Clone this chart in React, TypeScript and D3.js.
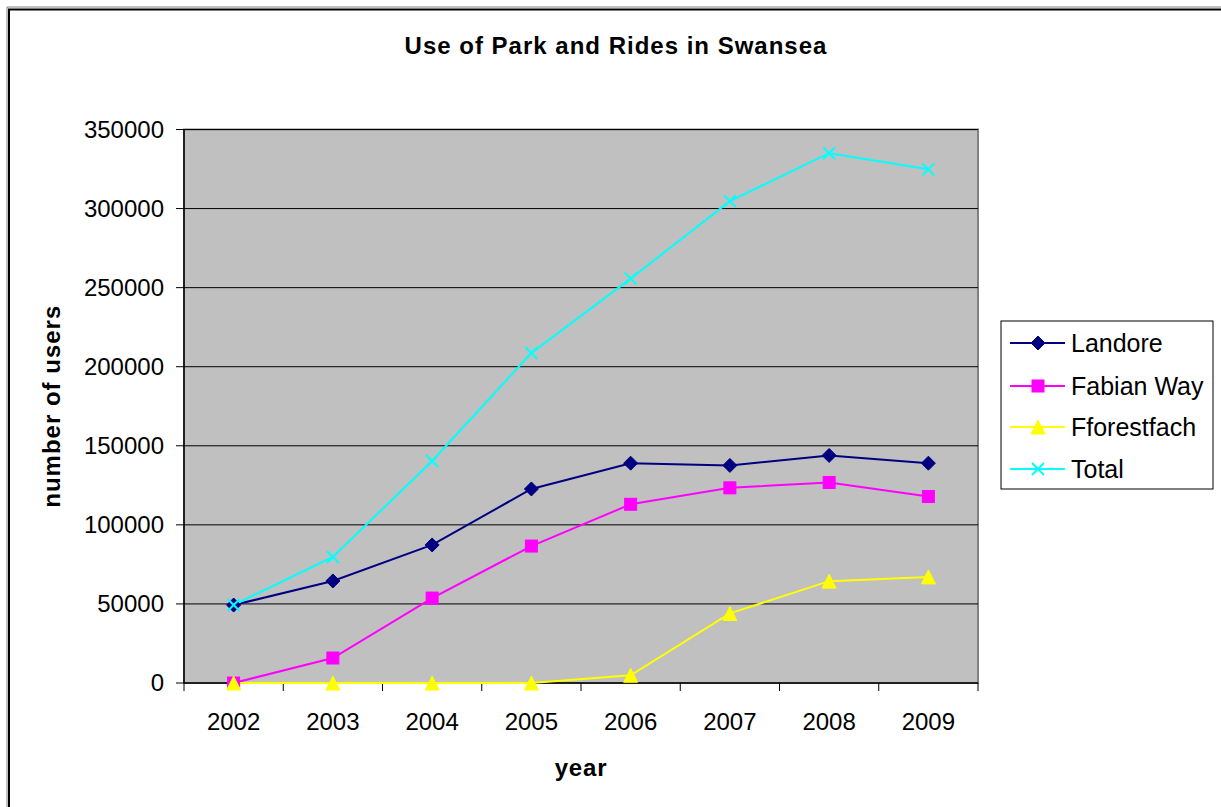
import React from "react";
import * as d3 from "d3";

const years = ["2002", "2003", "2004", "2005", "2006", "2007", "2008", "2009"];
const landore = [49300, 64500, 87300, 122700, 139000, 137600, 143900, 139000];
const fabianWay = [0, 15800, 53700, 86600, 113000, 123400, 126800, 117900];
const fforestfach = [0, 0, 0, 0, 4900, 44000, 64400, 67100];
const total = [49300, 79700, 140400, 208700, 255700, 304700, 335000, 324800];
const yTicks = [0, 50000, 100000, 150000, 200000, 250000, 300000, 350000];

const seriesNames = ["Landore", "Fabian Way", "Fforestfach", "Total"];
const seriesColors = ["#000080", "#FF00FF", "#FFFF00", "#00FFFF"];
const seriesMarkers = ["diamond", "square", "triangle", "x"];

const W = 1221;
const H = 807;
const plotL = 184;
const plotR = 978;
const plotT = 129.5;
const plotB = 683;
const FONT = "'Liberation Sans', Arial, sans-serif";

function Marker({ type, x, y, color }: { type: string; x: number; y: number; color: string }) {
  if (type === "diamond") {
    const s = 7;
    return <path d={`M${x},${y - s}L${x + s},${y}L${x},${y + s}L${x - s},${y}Z`} fill={color} stroke={color} strokeWidth={1} />;
  }
  if (type === "square") {
    const s = 6;
    return <rect x={x - s} y={y - s} width={2 * s} height={2 * s} fill={color} stroke={color} strokeWidth={1} />;
  }
  if (type === "triangle") {
    const s = 7;
    return <path d={`M${x},${y - s}L${x + s},${y + s}L${x - s},${y + s}Z`} fill={color} stroke={color} strokeWidth={1} />;
  }
  const s = 6;
  return (
    <path d={`M${x - s},${y - s}L${x + s},${y + s}M${x - s},${y + s}L${x + s},${y - s}`} stroke={color} strokeWidth={2} fill="none" />
  );
}

export default function App() {
  const x = d3.scaleBand<string>().domain(years).range([plotL, plotR]);
  const y = d3.scaleLinear().domain([0, 350000]).range([plotB, plotT]);
  const cx = (yr: string) => (x(yr) as number) + x.bandwidth() / 2;
  const data = [landore, fabianWay, fforestfach, total];
  const line = d3
    .line<number>()
    .x((_, i) => cx(years[i]))
    .y((v) => y(v));

  const legendX = 1001;
  const legendY = 321;
  const legendRows = [343, 386, 427, 469];

  return (
    <svg width={W} height={H} style={{ position: "absolute", left: 0, top: 0, background: "#fff" }} fontFamily={FONT}>
      <rect x={0} y={0} width={W} height={H} fill="#fff" />
      {/* outer frame */}
      <path d={`M9,${H + 5}V9.5H${W + 5}`} fill="none" stroke="#000" strokeWidth={2} />
      <path d={`M8,${H + 5}V8H${W + 5}`} fill="none" stroke="#808080" strokeWidth={1} transform="translate(-1,-1)" />
      <text x={616} y={54} textAnchor="middle" fontSize={24} fontWeight="bold" letterSpacing={1}>
        Use of Park and Rides in Swansea
      </text>
      {/* plot area */}
      <rect x={plotL} y={plotT} width={plotR - plotL} height={plotB - plotT} fill="#C0C0C0" stroke="#808080" strokeWidth={2} />
      {yTicks.slice(1).map((t) => (
        <line key={t} x1={plotL} x2={plotR} y1={y(t)} y2={y(t)} stroke="#000" strokeWidth={1} />
      ))}
      {/* y axis */}
      <line x1={plotL} x2={plotL} y1={plotT} y2={plotB} stroke="#000" strokeWidth={1.5} />
      {yTicks.map((t) => (
        <g key={t}>
          <line x1={plotL - 8} x2={plotL} y1={y(t)} y2={y(t)} stroke="#000" strokeWidth={1} />
          <text x={164} y={y(t)} dy="0.35em" textAnchor="end" fontSize={24}>
            {t}
          </text>
        </g>
      ))}
      {/* x axis */}
      <line x1={plotL} x2={plotR} y1={plotB} y2={plotB} stroke="#000" strokeWidth={1.5} />
      {years.concat(["end"]).map((yr, i) => {
        const xx = plotL + i * x.bandwidth();
        return <line key={yr} x1={xx} x2={xx} y1={plotB} y2={plotB + 8} stroke="#000" strokeWidth={1} />;
      })}
      {years.map((yr) => (
        <text key={yr} x={cx(yr)} y={730} textAnchor="middle" fontSize={24}>
          {yr}
        </text>
      ))}
      <text x={581} y={776} textAnchor="middle" fontSize={24} fontWeight="bold" letterSpacing={0.8}>
        year
      </text>
      <text
        transform={`translate(60,${(plotT + plotB) / 2}) rotate(-90)`}
        textAnchor="middle"
        fontSize={24}
        fontWeight="bold"
        letterSpacing={1}
      >
        number of users
      </text>
      {/* series */}
      {data.map((vals, si) => (
        <g key={si}>
          <path d={line(vals) || ""} fill="none" stroke={seriesColors[si]} strokeWidth={2} />
        </g>
      ))}
      {data.map((vals, si) => (
        <g key={"m" + si}>
          {vals.map((v, i) => (
            <Marker key={i} type={seriesMarkers[si]} x={cx(years[i])} y={y(v)} color={seriesColors[si]} />
          ))}
        </g>
      ))}
      {/* legend */}
      <rect x={legendX} y={legendY} width={212} height={168} fill="#fff" stroke="#000" strokeWidth={1} />
      {seriesNames.map((n, i) => (
        <g key={n}>
          <line x1={1010} x2={1065} y1={legendRows[i]} y2={legendRows[i]} stroke={seriesColors[i]} strokeWidth={2} />
          <Marker type={seriesMarkers[i]} x={1038} y={legendRows[i]} color={seriesColors[i]} />
          <text x={1071} y={legendRows[i]} dy="0.35em" fontSize={25}>
            {n}
          </text>
        </g>
      ))}
    </svg>
  );
}
